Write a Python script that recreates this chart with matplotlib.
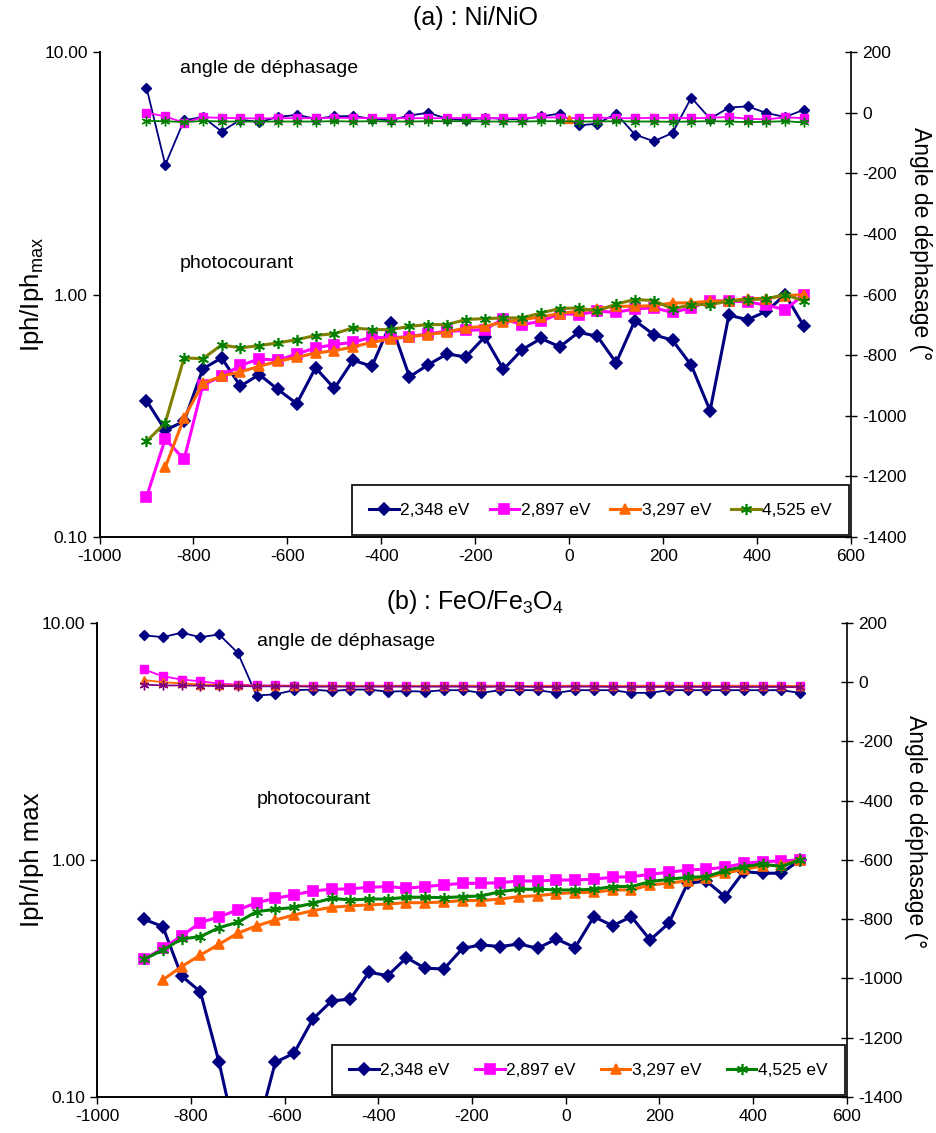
import matplotlib
matplotlib.use("Agg")
import matplotlib.pyplot as plt
from matplotlib.ticker import FixedLocator, NullLocator

plt.rcParams["font.family"] = ["Liberation Sans", "DejaVu Sans"]
plt.rcParams["axes.unicode_minus"] = False

# potential axis (same grid for both panels)
x = [-900, -860, -820, -780, -740, -700, -660, -620, -580, -540, -500, -460,
     -420, -380, -340, -300, -260, -220, -180, -140, -100, -60, -20, 20,
     60, 100, 140, 180, 220, 260, 300, 340, 380, 420, 460, 500]
x_late = x[1:]  # 3,297 eV series start one step later

labels = ["2,348 eV", "2,897 eV", "3,297 eV", "4,525 eV"]

# ---- (a) Ni/NiO : photocurrent (normalised) ----
pc_a_2348 = [0.365, 0.276, 0.30, 0.494, 0.548, 0.419, 0.468, 0.406, 0.355, 0.499,
             0.41, 0.536, 0.506, 0.764, 0.458, 0.514, 0.569, 0.553, 0.669, 0.491,
             0.593, 0.659, 0.609, 0.699, 0.673, 0.523, 0.781, 0.684, 0.648, 0.511,
             0.332, 0.822, 0.788, 0.853, 1.0, 0.74]
pc_a_2897 = [0.146, 0.254, 0.209, 0.423, 0.461, 0.51, 0.543, 0.536, 0.569, 0.603,
             0.622, 0.636, 0.667, 0.663, 0.671, 0.689, 0.706, 0.711, 0.717, 0.794,
             0.752, 0.776, 0.835, 0.827, 0.854, 0.845, 0.873, 0.881, 0.845, 0.881,
             0.945, 0.94, 0.933, 0.904, 0.867, 1.0]
pc_a_3297 = [0.194, 0.31, 0.43, 0.461, 0.48, 0.506, 0.531, 0.551, 0.574, 0.587,
             0.608, 0.636, 0.656, 0.67, 0.684, 0.701, 0.729, 0.74, 0.769, 0.789,
             0.809, 0.835, 0.854, 0.876, 0.895, 0.895, 0.9, 0.924, 0.924, 0.94,
             0.94, 0.963, 0.963, 0.99, 1.0]
pc_a_4525 = [0.248, 0.296, 0.548, 0.544, 0.62, 0.603, 0.616, 0.632, 0.652, 0.678,
             0.69, 0.729, 0.717, 0.717, 0.74, 0.752, 0.752, 0.789, 0.796, 0.801,
             0.801, 0.84, 0.876, 0.881, 0.854, 0.915, 0.954, 0.945, 0.873, 0.909,
             0.909, 0.94, 0.954, 0.96, 1.0, 0.94]

# ---- (a) phase angle (deg) ----
ang_a_2348 = [83, -172, -25, -14, -62, -23, -31, -14, -7, -20, -12, -11, -20, -25,
              -9, 0, -20, -25, -17, -20, -22, -12, -3, -42, -36, -3, -72, -94, -67,
              50, -20, 17, 21, -1, -14, 10]
ang_a_2897 = [0, -12, -33, -15, -17, -18, -19, -18, -18, -18, -17, -17, -18, -18,
              -18, -18, -18, -17, -18, -18, -18, -15, -16, -18, -16, -18, -18, -17,
              -17, -18, -17, -14, -20, -22, -15, -18]
x_ang_a_3297 = [0]
ang_a_3297 = [-22]
ang_a_4525 = [-27, -28, -31, -27, -29, -29, -29, -29, -29, -29, -28, -29, -28, -29,
              -29, -28, -28, -28, -29, -29, -29, -28, -28, -29, -29, -28, -29, -29,
              -30, -29, -28, -29, -31, -30, -28, -32]

# ---- (b) FeO/Fe3O4 : photocurrent (normalised) ----
pc_b_2348 = [0.562, 0.523, 0.324, 0.278, 0.14, 0.062, 0.07, 0.14, 0.153, 0.213,
             0.254, 0.259, 0.336, 0.325, 0.387, 0.349, 0.347, 0.424, 0.438, 0.431,
             0.442, 0.424, 0.464, 0.427, 0.576, 0.528, 0.576, 0.46, 0.541, 0.797,
             0.815, 0.7, 0.893, 0.879, 0.879, 1.0]
pc_b_2897 = [0.381, 0.424, 0.478, 0.544, 0.576, 0.615, 0.66, 0.689, 0.712, 0.74,
             0.752, 0.755, 0.767, 0.772, 0.76, 0.772, 0.785, 0.797, 0.797, 0.802,
             0.815, 0.815, 0.823, 0.823, 0.83, 0.845, 0.85, 0.87, 0.887, 0.907,
             0.915, 0.931, 0.968, 0.984, 0.99, 1.0]
pc_b_3297 = [0.312, 0.355, 0.397, 0.441, 0.491, 0.527, 0.558, 0.586, 0.611, 0.631,
             0.64, 0.646, 0.652, 0.66, 0.66, 0.665, 0.674, 0.674, 0.684, 0.7,
             0.707, 0.72, 0.728, 0.73, 0.747, 0.747, 0.785, 0.797, 0.818, 0.842,
             0.879, 0.913, 0.943, 0.952, 1.0]
pc_b_4525 = [0.381, 0.417, 0.464, 0.475, 0.518, 0.546, 0.605, 0.619, 0.631, 0.656,
             0.689, 0.678, 0.684, 0.684, 0.696, 0.696, 0.693, 0.7, 0.705, 0.735,
             0.752, 0.752, 0.747, 0.747, 0.752, 0.772, 0.772, 0.81, 0.829, 0.845,
             0.85, 0.901, 0.937, 0.962, 0.937, 1.0]

# ---- (b) phase angle (deg) ----
ang_b_2348 = [158, 152, 167, 152, 161, 99, -45, -41, -27, -25, -30, -25, -25, -32,
              -30, -32, -27, -27, -36, -27, -27, -27, -36, -27, -27, -27, -36, -36,
              -27, -27, -27, -27, -27, -27, -27, -36]
ang_b_2897 = [43, 20, 9, 3, -5, -8, -11, -11, -12, -12, -12, -13, -12, -12, -12,
              -13, -12, -12, -12, -12, -13, -12, -12, -12, -12, -13, -12, -12, -12,
              -12, -13, -12, -12, -12, -12, -13]
ang_b_3297 = [7, 0, -4, -8, -10, -11, -12, -12, -13, -13, -13, -13, -13, -13, -13,
              -13, -13, -13, -13, -13, -13, -13, -13, -13, -13, -13, -13, -13, -13,
              -13, -13, -13, -13, -13, -13, -13]
ang_b_4525 = [-8, -11, -11, -12, -13, -13, -14, -14, -14, -15, -15, -15, -15, -15,
              -15, -15, -15, -15, -16, -15, -15, -16, -16, -15, -15, -16, -16, -16,
              -16, -16, -16, -16, -16, -16, -16, -17]

NAVY = "#000080"
MAGENTA = "#FF00FF"
ORANGE = "#FF6600"
GREEN = "#008000"
OLIVE = "#808000"
PURPLE = "#800080"
STAR = (6, 2, 0)

fig = plt.figure(figsize=(9.37, 11.33), dpi=100)


def style_axes(ax, ax2):
    ax.set_yscale("log")
    ax.set_ylim(0.1, 10)
    ax.set_xlim(-1000, 600)
    ax.yaxis.set_major_locator(FixedLocator([0.1, 1, 10]))
    ax.yaxis.set_minor_locator(NullLocator())
    ax.set_yticklabels(["0.10", "1.00", "10.00"])
    ax.set_xticks(range(-1000, 601, 200))
    ax.tick_params(axis="both", labelsize=12.5, direction="out", length=5, width=1)
    ax2.set_ylim(-1400, 200)
    ax2.set_yticks(range(-1400, 201, 200))
    ax2.tick_params(axis="y", labelsize=12.5, direction="inout", length=9, width=1)
    for a in (ax, ax2):
        a.spines["top"].set_visible(False)
        for s in a.spines.values():
            s.set_linewidth(1.2)
    ax.spines["right"].set_visible(False)


def panel(rect, pcs, angs, pc_colors, ang_colors, ang_x, texts, title, ylab,
          title_y, rlab_pos, colsp):
    ax = fig.add_axes(rect)
    ax2 = ax.twinx()
    markers = ["D", "s", "^", STAR]
    sizes = [6, 7, 7, 8]
    handles = []
    for (xs, ys), (lc, mc), m, ms, lab in zip(pcs, pc_colors, markers, sizes, labels):
        h, = ax.plot(xs, ys, color=lc, lw=2.2, marker=m, ms=ms, mfc=mc, mec=mc,
                     mew=1.2, label=lab, clip_on=True)
        handles.append(h)
    for (xs, ys), (lc, mc), m, ms in zip(zip(ang_x, angs), ang_colors, markers, [5, 6, 6, 7]):
        ax2.plot(xs, ys, color=lc, lw=1.3, marker=m, ms=ms, mfc=mc, mec=mc, mew=1.0)
    style_axes(ax, ax2)
    leg = ax2.legend(handles=handles, loc="lower right", ncol=4, fontsize=12.5,
                     frameon=True, fancybox=False, borderaxespad=0.1,
                     handlelength=1.7, handletextpad=0.1, columnspacing=colsp,
                     borderpad=1.0, edgecolor="black", framealpha=1)
    leg.get_frame().set_linewidth(1.2)
    for (tx, ty, s) in texts:
        ax.text(tx, ty, s, transform=ax.transAxes, fontsize=14, va="center", ha="left")
    fig.text(0.507, title_y, title, ha="center", va="center", fontsize=18)
    fig.text(0.034, rect[1] + rect[3] * 0.5, ylab, rotation=90, ha="center",
             va="center", fontsize=18.5)
    fig.text(rlab_pos[0], rlab_pos[1], "Angle de déphasage (°", rotation=270,
             ha="center", va="top", fontsize=16.5)
    return ax, ax2


panel([0.1062, 0.526, 0.802, 0.428],
      [(x, pc_a_2348), (x, pc_a_2897), (x_late, pc_a_3297), (x, pc_a_4525)],
      [ang_a_2348, ang_a_2897, ang_a_3297, ang_a_4525],
      [(NAVY, NAVY), (MAGENTA, MAGENTA), (ORANGE, ORANGE), (OLIVE, GREEN)],
      [(NAVY, NAVY), (MAGENTA, MAGENTA), (ORANGE, ORANGE), (GREEN, GREEN)],
      [x, x, x_ang_a_3297, x],
      [(0.107, 0.967, "angle de déphasage"), (0.107, 0.565, "photocourant")],
      "(a) : Ni/NiO", r"Iph/Iph$_{\mathregular{max}}$", 1 - 18 / 1133,
      (0.982, 1 - 127 / 1133), 1.15)

panel([0.1038, 0.0318, 0.800, 0.4184],
      [(x, pc_b_2348), (x, pc_b_2897), (x_late, pc_b_3297), (x, pc_b_4525)],
      [ang_b_2348, ang_b_2897, ang_b_3297, ang_b_4525],
      [(NAVY, NAVY), (MAGENTA, MAGENTA), (ORANGE, ORANGE), (GREEN, GREEN)],
      [(NAVY, NAVY), (MAGENTA, MAGENTA), (ORANGE, ORANGE), (PURPLE, PURPLE)],
      [x, x, x, x],
      [(0.213, 0.96, "angle de déphasage"), (0.213, 0.627, "photocourant")],
      r"(b) : FeO/Fe$_\mathregular{3}$O$_\mathregular{4}$", "Iph/Iph max", 1 - 602 / 1133,
      (0.977, 1 - 715 / 1133), 1.45)

fig.savefig("out.png", dpi=100)
